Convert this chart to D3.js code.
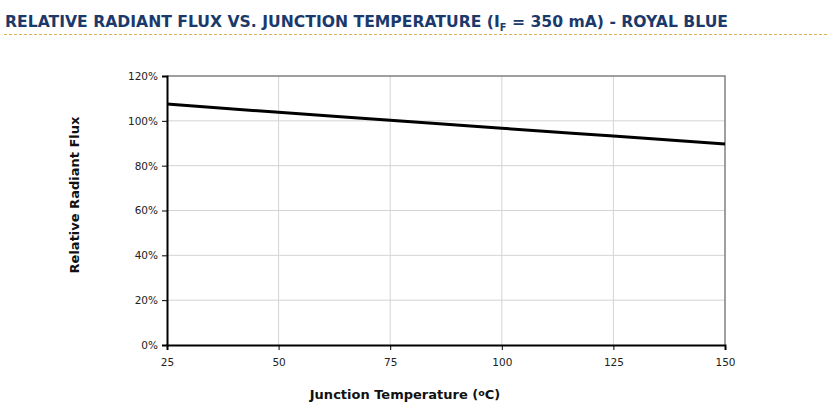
<!DOCTYPE html>
<html>
<head>
<meta charset="utf-8">
<script src="https://cdn.jsdelivr.net/npm/d3@7"></script>
<style>
  body { margin: 0; background: #fff; }
  text { font-family: "DejaVu Sans", Verdana, sans-serif; }
</style>
</head>
<body>
<div id="chart"></div>
<script>
'use strict';

// Data.
const temps = [25, 50, 75, 100, 125, 150];
const flux = [1.075, 1.038, 1.003, 0.967, 0.932, 0.897];
const xTicks = [25, 50, 75, 100, 125, 150];
const yTicks = [0, 0.2, 0.4, 0.6, 0.8, 1.0, 1.2];

const W = 839, H = 409;
const margin = { top: 76, right: 114, bottom: 64, left: 167 };
const width = W - margin.left - margin.right;
const height = H - margin.top - margin.bottom;

const svg = d3.select('#chart')
    .append('svg')
    .attr('width', W)
    .attr('height', H);

// Title
const title = svg.append('text')
    .attr('x', 5)
    .attr('y', 27)
    .attr('fill', '#1b3a6b')
    .attr('font-weight', 'bold')
    .attr('font-size', 16)
    .attr('textLength', 723)
    .attr('lengthAdjust', 'spacingAndGlyphs');
title.append('tspan').text('RELATIVE RADIANT FLUX VS. JUNCTION TEMPERATURE (I');
title.append('tspan').attr('font-size', 10).attr('dy', 4).text('F');
title.append('tspan').attr('dy', -4).text(' = 350 mA) - ROYAL BLUE');

svg.append('line')
    .attr('x1', 4).attr('x2', 828)
    .attr('y1', 34.5).attr('y2', 34.5)
    .attr('stroke', '#e0b050')
    .attr('stroke-dasharray', '3,2');

const g = svg.append('g')
    .attr('transform', 'translate(' + margin.left + ',' + margin.top + ')');

const x = d3.scaleLinear().domain([25, 150]).range([0, width]);
const y = d3.scaleLinear().domain([0, 1.2]).range([height, 0]);

// Gridlines
g.selectAll('.vgrid')
    .data(xTicks.slice(1, -1))
    .enter().append('line')
    .attr('x1', d => x(d)).attr('x2', d => x(d))
    .attr('y1', 0).attr('y2', height)
    .attr('stroke', '#d4d4d4');
g.selectAll('.hgrid')
    .data(yTicks.slice(1, -1))
    .enter().append('line')
    .attr('x1', 0).attr('x2', width)
    .attr('y1', d => y(d)).attr('y2', d => y(d))
    .attr('stroke', '#d4d4d4');

// Top and right border (grey)
g.append('path')
    .attr('d', 'M0,' + y(1.2) + 'H' + width + 'V' + height)
    .attr('fill', 'none')
    .attr('stroke', '#808080')
    .attr('stroke-width', 1.5);

// Axes
const xAxis = g.append('g')
    .attr('transform', 'translate(0,' + height + ')')
    .call(d3.axisBottom(x).tickValues(xTicks).tickSize(5).tickPadding(9).tickFormat(d3.format('d')));
const yAxis = g.append('g')
    .call(d3.axisLeft(y).tickValues(yTicks).tickSize(5).tickPadding(4).tickFormat(d3.format('.0%')));

[xAxis, yAxis].forEach(a => {
    a.select('.domain').attr('stroke', '#000').attr('stroke-width', 2);
    a.selectAll('.tick line').attr('stroke', '#000');
    a.selectAll('.tick text')
        .attr('font-family', '"DejaVu Sans", Verdana, sans-serif')
        .attr('font-size', 10.5)
        .attr('fill', '#222');
});

// Curve
const line = d3.line()
    .x((d, i) => x(temps[i]))
    .y(d => y(d))
    .curve(d3.curveMonotoneX);
g.append('path')
    .datum(flux)
    .attr('d', line)
    .attr('fill', 'none')
    .attr('stroke', '#000')
    .attr('stroke-width', 3);

// Axis titles
const xt = svg.append('text')
    .attr('x', 405)
    .attr('y', 399)
    .attr('text-anchor', 'middle')
    .attr('font-weight', 'bold')
    .attr('font-size', 13)
    .attr('fill', '#111');
xt.append('tspan').text('Junction Temperature (');
xt.append('tspan').attr('font-size', 9.5).attr('dy', -3).text('o');
xt.append('tspan').attr('dy', 3).text('C)');

svg.append('text')
    .attr('transform', 'translate(79,195) rotate(-90)')
    .attr('text-anchor', 'middle')
    .attr('font-family', '"Liberation Sans", Arial, sans-serif')
    .attr('font-weight', 'bold')
    .attr('font-size', 13)
    .attr('fill', '#111')
    .text('Relative Radiant Flux');
</script>
</body>
</html>
